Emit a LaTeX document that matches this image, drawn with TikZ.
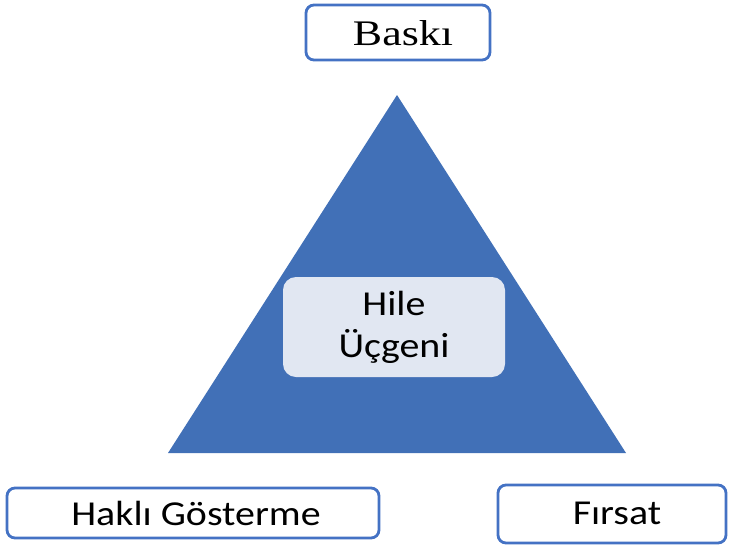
\documentclass[tikz,border=0pt]{standalone}
\usepackage{fontspec}
\setmainfont{Carlito}[FakeStretch=1.14]
\newfontfamily\serifB{Liberation Serif}[FakeStretch=1.22]
\definecolor{triblue}{HTML}{4170B7}
\definecolor{edgeblue}{HTML}{4472C4}
\definecolor{paleblue}{HTML}{E1E7F2}
\begin{document}
\begin{tikzpicture}[x=1pt,y=-1pt,
  framebox/.style={draw=edgeblue,line width=2.8pt,rounded corners=8pt,fill=white,inner sep=0pt},
  labeltext/.style={anchor=base,inner sep=0pt,font=\fontsize{35}{42}\selectfont}]
\useasboundingbox (0,0) rectangle (729,547);
% triangle
\path[fill=triblue] (397,95) coordinate (apex) -- (168,453) coordinate (bl) -- (626,453) coordinate (br) -- cycle;
% centre box
\node[fill=paleblue,rounded corners=13pt,minimum width=222pt,minimum height=100pt,inner sep=0pt] (centre) at (394,327) {};
\node[labeltext] (hile) at (394,315) {Hile};
\node[labeltext] (ucgen) at (394,357) {Üçgeni};
% top box
\node[framebox,minimum width=184pt,minimum height=55pt] (baskibox) at (398,32.5) {};
\node[labeltext,font=\serifB\fontsize{36}{42}\selectfont] (baski) at (403,45) {Baskı};
% bottom left
\node[framebox,minimum width=372pt,minimum height=50pt] (haklibox) at (193,513) {};
\node[labeltext] (hakli) at (196,525) {Haklı Gösterme};
% bottom right
\node[framebox,minimum width=228pt,minimum height=58pt] (firsatbox) at (612,514) {};
\node[labeltext] (firsat) at (617,524) {Fırsat};
\end{tikzpicture}
\end{document}
